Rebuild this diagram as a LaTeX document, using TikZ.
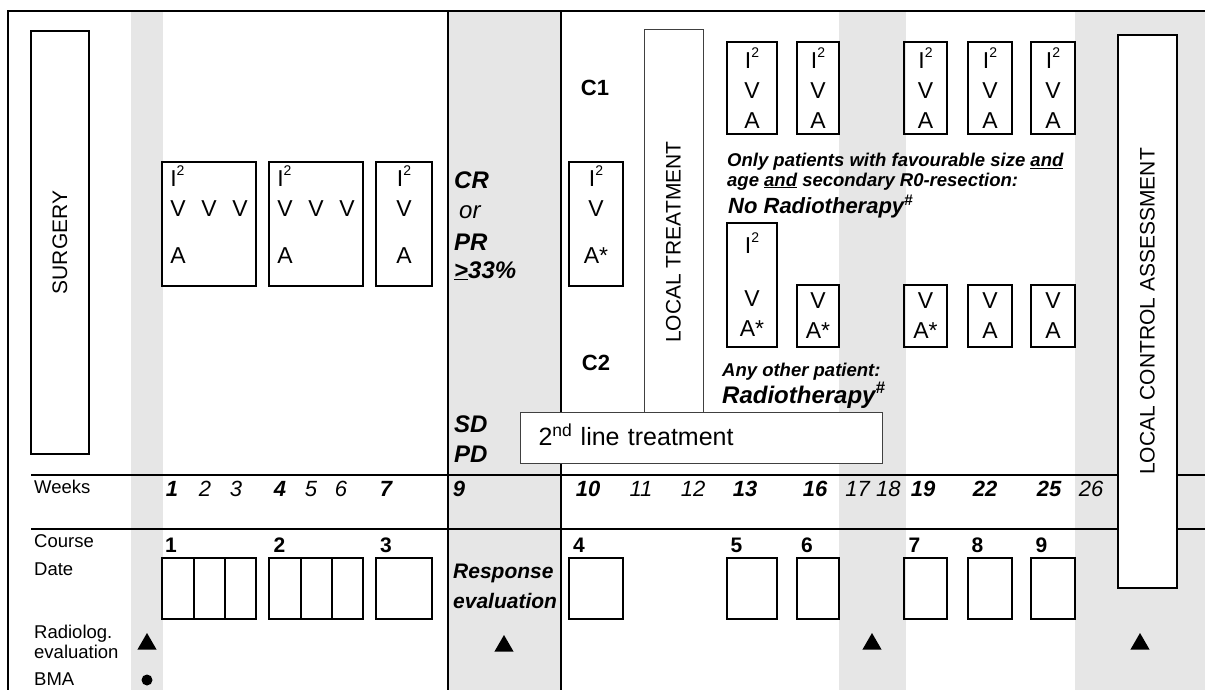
\documentclass[tikz,border=0pt]{standalone}
\usepackage{fontspec}
\setmainfont{Liberation Sans}
\usetikzlibrary{positioning,shapes.geometric}
\definecolor{bandgray}{HTML}{E6E6E6}
\newcommand{\Isq}{I\raisebox{0.48em}{\fontsize{14}{14}\selectfont 2}}

\begin{document}
\begin{tikzpicture}[x=1pt,y=-1pt,
    frameline/.style={line width=2pt},
    tallbox/.style={draw,line width=1.5pt,fill=white,rotate=90,inner sep=0pt,font=\fontsize{21}{21}\selectfont},
    thinbox/.style={draw=black!75,line width=1pt,fill=white,inner sep=0pt,font=\fontsize{21}{21}\selectfont},
    cbox/.style={draw,line width=1.5pt,inner sep=0pt,outer sep=0pt,align=center,anchor=north west,font=\fontsize{23}{30}\selectfont},
    datebox/.style={draw,line width=1.5pt,inner sep=0pt,outer sep=0pt,minimum height=61pt,anchor=north west},
    rowlab/.style={anchor=base west,inner sep=0pt,font=\fontsize{18.5}{20}\selectfont},
    wk/.style={anchor=base,inner sep=0pt,font=\fontsize{22}{22}\selectfont\itshape},
    wkb/.style={wk,font=\fontsize{22}{22}\selectfont\bfseries\itshape},
    crsno/.style={anchor=base,inner sep=0pt,font=\fontsize{21}{21}\selectfont\bfseries},
    resp/.style={anchor=base west,inner sep=0pt,font=\fontsize{24}{24}\selectfont\bfseries\itshape},
    note/.style={anchor=base west,inner sep=0pt,font=\fontsize{18.5}{18}\selectfont\bfseries\itshape},
    arm/.style={inner sep=0pt,font=\fontsize{22}{22}\selectfont\bfseries},
    tri/.style={regular polygon,regular polygon sides=3,fill=black,inner sep=0pt,minimum size=22pt},
    dot/.style={circle,fill=black,inner sep=0pt,minimum size=11pt},
  ]
  \useasboundingbox (0,0) rectangle (1205,690);
  % shaded weeks
  \fill[bandgray] (131,11) rectangle (163,690);
  \fill[bandgray] (448,11) rectangle (561,690);
  \fill[bandgray] (839,11) rectangle (906,690);
  \fill[bandgray] (1075,11) rectangle (1205,690);
  \draw[frameline] (8,690) -- (8,11) -- (1205,11);
  \draw[frameline] (448,11) -- (448,690);
  \draw[frameline] (561,11) -- (561,690);
  \draw[frameline] (31,475) -- (1205,475);
  \draw[frameline] (31,529) -- (1205,529);

  \node[tallbox,minimum width=423pt,minimum height=58pt] (surg) at (60,242.5) {SURGERY};
  \node[thinbox,rotate=90,minimum width=424pt,minimum height=59pt] (loctr) at (673.5,242) {LOCAL TREATMENT};
  \node[tallbox,minimum width=553pt,minimum height=59pt] (lca) at (1147.5,311.5) {LOCAL CONTROL ASSESSMENT};
  \node[thinbox,anchor=north west,minimum width=362pt,minimum height=51pt,text width=326pt,inner xsep=18pt,
        align=left,text height=15pt,text depth=0pt,font=\fontsize{25}{25}\selectfont] (second) at (520,412) {2\textsuperscript{nd} line treatment};

  % courses
  \node[cbox,align=left,minimum width=94pt,minimum height=124pt] (tb1) at (162,162) {\Isq\\V\hspace{15.7pt}V\hspace{15.7pt}V\\[17pt]A\rule[-19pt]{0pt}{19pt}};
  \node[cbox,align=left,minimum width=94pt,minimum height=124pt] (tb2) at (269,162) {\Isq\\V\hspace{15.7pt}V\hspace{15.7pt}V\\[17pt]A\rule[-19pt]{0pt}{19pt}};
  \node[cbox,minimum width=56pt,minimum height=124pt] (tb3) at (376,162) {\Isq\\V\\[17pt]A\rule[-19pt]{0pt}{19pt}};
  \node[cbox,minimum width=54pt,minimum height=124pt] (tb4) at (569,162) {\Isq\\V\\[17pt]A*\rule[-19pt]{0pt}{19pt}};
  \node[cbox,minimum width=50pt,minimum height=92pt] (r5) at (727,42) {\Isq\\V\\A};
  \node[cbox,minimum width=42pt,minimum height=92pt] (r6) at (797,42) {\Isq\\V\\A};
  \node[cbox,minimum width=43pt,minimum height=92pt] (r7) at (904,42) {\Isq\\V\\A};
  \node[cbox,minimum width=44pt,minimum height=92pt] (r8) at (968,42) {\Isq\\V\\A};
  \node[cbox,minimum width=44pt,minimum height=92pt] (r9) at (1031,42) {\Isq\\V\\A};
  \node[cbox,minimum width=50pt,minimum height=124pt] (s5) at (727,223) {\Isq\\[23pt]V\\A*};
  \node[cbox,minimum width=42pt,minimum height=62pt] (s6) at (797,285) {V\\A*};
  \node[cbox,minimum width=43pt,minimum height=62pt] (s7) at (904,285) {V\\A*};
  \node[cbox,minimum width=44pt,minimum height=62pt] (s8) at (968,285) {V\\A};
  \node[cbox,minimum width=44pt,minimum height=62pt] (s9) at (1031,285) {V\\A};

  \node[arm] (c1) at (595,88) {C1};
  \node[arm] (c2) at (596,363) {C2};
  \node[resp] (cr) at (454,188) {CR};
  \node[resp,font=\fontsize{24}{24}\selectfont\itshape] (orlab) at (459,218) {or};
  \node[resp] (pr) at (454,250) {PR};
  \node[resp] (pct) at (454,278) {\underline{>}33\%};
  \node[resp] (sd) at (454,432) {SD};
  \node[resp] (pd) at (454,462) {PD};
  \node[note] (only1) at (727,167) {Only patients with favourable size \underline{and}};
  \node[note] (only2) at (727,186) {age \underline{and} secondary R0-resection:};
  \node[resp,font=\fontsize{22}{22}\selectfont\bfseries\itshape] (norad) at (728,213) {No Radiotherapy\textsuperscript{\#}};
  \node[note] (anyp) at (722,376) {Any other patient:};
  \node[resp] (rad) at (722,403) {Radiotherapy\textsuperscript{\#}};

  % weeks
  \node[rowlab] (weeks) at (34,493) {Weeks};
  \node[wkb] (w1) at (172,496) {1};
  \node[wk] (w2) at (205,496) {2};
  \node[wk] (w3) at (236,496) {3};
  \node[wkb] (w4) at (280,496) {4};
  \node[wk] (w5) at (311,496) {5};
  \node[wk] (w6) at (341,496) {6};
  \node[wkb] (w7) at (386,496) {7};
  \node[wkb] (w9) at (459,496) {9};
  \node[wkb] (w10) at (588,496) {10};
  \node[wk] (w11) at (641,496) {11};
  \node[wk] (w12) at (693,496) {12};
  \node[wkb] (w13) at (745,496) {13};
  \node[wkb] (w16) at (815,496) {16};
  \node[wk] (w17) at (873,496) {17 18};
  \node[wkb] (w19) at (923,496) {19};
  \node[wkb] (w22) at (985,496) {22};
  \node[wkb] (w25) at (1049,496) {25};
  \node[wk] (w26) at (1091,496) {26};

  % course and date
  \node[rowlab] (course) at (34,547) {Course};
  \node[rowlab] (date) at (34,575) {Date};
  \node[crsno] (n1) at (171,552) {1};
  \node[crsno] (n2) at (279.5,552) {2};
  \node[crsno] (n3) at (386,552) {3};
  \node[crsno] (n4) at (579,552) {4};
  \node[crsno] (n5) at (736.5,552) {5};
  \node[crsno] (n6) at (807,552) {6};
  \node[crsno] (n7) at (914.5,552) {7};
  \node[crsno] (n8) at (977.5,552) {8};
  \node[crsno] (n9) at (1041.5,552) {9};
  \node[datebox,minimum width=32pt] (d1a) at (162,558) {};
  \node[datebox,minimum width=31pt,right=0pt of d1a] (d1b) {};
  \node[datebox,minimum width=31pt,right=0pt of d1b] (d1c) {};
  \node[datebox,minimum width=32pt] (d2a) at (269,558) {};
  \node[datebox,minimum width=31pt,right=0pt of d2a] (d2b) {};
  \node[datebox,minimum width=31pt,right=0pt of d2b] (d2c) {};
  \node[datebox,minimum width=56pt] (d3) at (376,558) {};
  \node[datebox,minimum width=54pt] (d4) at (569,558) {};
  \node[datebox,minimum width=50pt] (d5) at (727,558) {};
  \node[datebox,minimum width=42pt] (d6) at (797,558) {};
  \node[datebox,minimum width=43pt] (d7) at (904,558) {};
  \node[datebox,minimum width=44pt] (d8) at (968,558) {};
  \node[datebox,minimum width=44pt] (d9) at (1031,558) {};
  \node[resp,font=\fontsize{21}{21}\selectfont\bfseries\itshape] (resp1) at (453,578) {Response};
  \node[resp,font=\fontsize{21}{21}\selectfont\bfseries\itshape] (resp2) at (453,608) {evaluation};

  % evaluations
  \node[rowlab] (radio1) at (34,638) {Radiolog.};
  \node[rowlab] (radio2) at (34,658) {evaluation};
  \node[rowlab] (bma) at (34,685) {BMA};
  \node[tri] (ev0) at (147,644) {};
  \node[tri] (ev9) at (504,646) {};
  \node[tri] (ev17) at (872,644) {};
  \node[tri] (ev27) at (1140,644) {};
  \node[dot] (bma0) at (147,680) {};
\end{tikzpicture}
\end{document}
